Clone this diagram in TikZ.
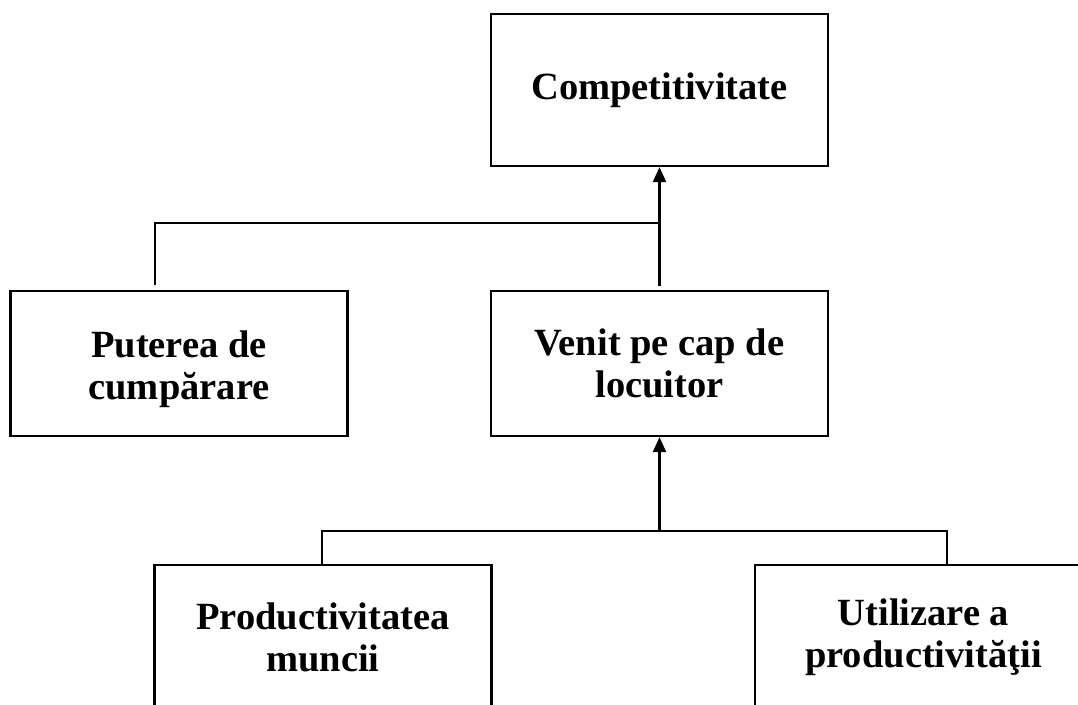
\documentclass[tikz,border=0pt]{standalone}
\usepackage{fontspec}
\setmainfont{Liberation Serif}
\usetikzlibrary{arrows.meta}
\begin{document}
\begin{tikzpicture}[x=1pt,y=-1pt,
  boxfont/.style={align=center, font=\fontsize{38.5}{42}\selectfont\bfseries},
  box/.style={draw, line width=2.2pt, minimum width=337pt, minimum height=145pt,
    inner sep=0pt, boxfont},
  plain/.style={line width=2.2pt},
  conn/.style={line width=2.2pt, -{Triangle[length=15pt,width=13pt]}}]
\useasboundingbox (0,0) rectangle (1078,704);
\clip (0,0) rectangle (1078,704);
\node[box, minimum height=152pt] (comp) at (659.5,90) {Competitivitate};
\node[box, label={[boxfont, yshift=-6pt]center:Puterea de\\cumpărare}] (put) at (179,363.5) {};
\node[box] (ven) at (659.5,363.5) {Venit pe cap de\\locuitor};
\node[box] (prod) at (323,637.5) {Productivitatea\\muncii};
\node[box] (util) at (923.5,637.5) {Utilizare a\\productivităţii};
\coordinate (j1) at (659.5,223);
\coordinate (j2) at (659.5,531);
\draw[conn, shorten <=4pt] (ven.north) -- (comp.south);
\draw[plain] ([xshift=-24pt,yshift=5pt]put.north) |- (j1);
\draw[conn] (j2) -- (ven.south);
\draw[plain] ([xshift=-1pt]prod.north) |- (j2);
\draw[plain] ([xshift=23.5pt]util.north) |- (j2);
\end{tikzpicture}
\end{document}
